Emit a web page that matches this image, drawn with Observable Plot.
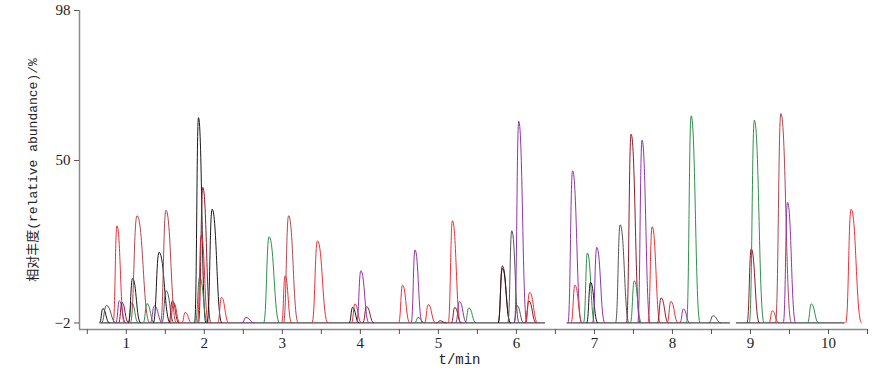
<!DOCTYPE html>
<html>
<head>
<meta charset="utf-8">
<script src="https://cdn.jsdelivr.net/npm/d3@7"></script>
<script src="https://cdn.jsdelivr.net/npm/@observablehq/plot@0.6"></script>
<style>
  html, body { margin: 0; padding: 0; background: #fff; }
</style>
</head>
<body>
<div id="chart"></div>
<script>
// ---- data ----
const traceNames  = ["red", "black", "grey", "green", "purple", "maroon", "rosy"];
const traceColors = ["#e8313a", "#1a1a1a", "#555555", "#2f8f4e", "#8f36a8", "#8e1b2c", "#b0464f"];

// retention time (min), apex abundance (%), peak half base width (min), trace
const peakTime   = [0.70, 0.745, 0.88, 0.91, 0.945, 1.07, 1.08, 1.137, 1.265, 1.36, 1.42, 1.508, 1.51, 1.59, 1.605, 1.755,
                    1.925, 1.94, 1.96, 1.98, 2.10, 2.22, 2.535, 2.83, 3.035, 3.08, 3.45, 3.90, 3.93, 4.006, 4.08,
                    4.54, 4.70, 4.74, 4.87, 5.02, 5.18, 5.21, 5.27, 5.39, 5.82, 5.82, 5.94, 6.01, 6.03, 6.16, 6.17,
                    6.72, 6.75, 6.91, 6.95, 7.03, 7.33, 7.47, 7.51, 7.61, 7.74, 7.855, 7.98, 8.14, 8.24, 8.52,
                    9.01, 9.05, 9.28, 9.39, 9.475, 9.78, 10.29];
const peakHeight = [2.6, 3.6, 29.1, 5.1, 4.5, 4.5, 12.2, 32.3, 4.2, 3.5, 20.6, 34.1, 8.3, 5.1, 4.6, 1.4,
                    63.7, 12.6, 26.0, 41.4, 34.4, 6.2, -0.2, 25.6, 13.1, 32.3, 24.3, 3.0, 4.1, 14.7, 3.2,
                    10.1, 21.4, -0.2, 3.9, -1.3, 30.7, 3.0, 4.9, 2.8, 16.3, 15.5, 27.5, 3.5, 62.5, 5.0, 7.8,
                    46.7, 10.1, 20.4, 11.0, 22.2, 29.4, 58.4, 11.5, 56.5, 28.8, 6.0, 4.9, 2.5, 64.3, 0.3,
                    21.7, 62.9, 1.9, 65.0, 36.6, 4.1, 34.4];
const peakWidth  = [0.04, 0.06, 0.045, 0.04, 0.04, 0.04, 0.05, 0.08, 0.045, 0.05, 0.07, 0.065, 0.05, 0.04, 0.04, 0.04,
                    0.045, 0.05, 0.045, 0.05, 0.06, 0.045, 0.05, 0.065, 0.04, 0.06, 0.065, 0.04, 0.04, 0.05, 0.045,
                    0.045, 0.045, 0.04, 0.045, 0.04, 0.05, 0.04, 0.045, 0.045, 0.05, 0.05, 0.045, 0.04, 0.05, 0.045, 0.05,
                    0.055, 0.045, 0.045, 0.045, 0.05, 0.055, 0.055, 0.045, 0.05, 0.05, 0.045, 0.045, 0.04, 0.055, 0.05,
                    0.05, 0.06, 0.04, 0.065, 0.05, 0.045, 0.065];
const peakTrace  = ["black", "grey", "red", "purple", "maroon", "green", "black", "rosy", "green", "purple", "black", "rosy", "grey", "maroon", "red", "red",
                    "black", "green", "red", "maroon", "black", "red", "purple", "green", "red", "rosy", "red", "black", "red", "purple", "maroon",
                    "red", "purple", "green", "red", "maroon", "red", "maroon", "purple", "green", "maroon", "black", "grey", "grey", "purple", "maroon", "red",
                    "purple", "red", "green", "black", "purple", "grey", "maroon", "green", "purple", "red", "maroon", "red", "purple", "green", "grey",
                    "maroon", "green", "red", "rosy", "purple", "green", "red"];

// acquisition segments (min) where the baseline is recorded
const segmentStart = [0.67, 6.65, 8.82];
const segmentEnd   = [6.36, 8.73, 10.2];
const baselineLevel = -2;

// axes
const xTickValues = [0.5, 1, 1.5, 2, 2.5, 3, 3.5, 4, 4.5, 5, 5.5, 6, 6.5, 7, 7.5, 8, 8.5, 9, 9.5, 10, 10.5];
const xTickLabels = ["", "1", "", "2", "", "3", "", "4", "", "5", "", "6", "", "7", "", "8", "", "9", "", "10", ""];
const yTickValues = [-2, 50, 98];
const yTickLabels = ["\u22122", "50", "98"];
const xLabel = "t/min";
const yLabel = "相对丰度(relative abundance)/%";

// ---- build tables for the marks ----
const peakRows = [];
peakTime.forEach((t, i) => {
  const w = peakWidth[i];
  peakRows.push({t: t - w,     v: baselineLevel, id: i, trace: peakTrace[i]});
  peakRows.push({t: t,         v: peakHeight[i], id: i, trace: peakTrace[i]});
  peakRows.push({t: t + 2 * w, v: baselineLevel, id: i, trace: peakTrace[i]});
});
const baseRows = [];
segmentStart.forEach((s, i) => {
  baseRows.push({t: s, v: baselineLevel, seg: i});
  baseRows.push({t: segmentEnd[i], v: baselineLevel, seg: i});
});

const xDomain = [0.4, 10.5];
const yDomain = [-4.1, 98];

const chart = Plot.plot({
  width: 884,
  height: 372,
  marginLeft: 79,
  marginRight: 17,
  marginTop: 10,
  marginBottom: 43,
  style: {fontFamily: "'Liberation Serif', serif", fontSize: "15px", color: "#222", background: "#fff"},
  x: {domain: xDomain},
  y: {domain: yDomain},
  color: {domain: traceNames, range: traceColors},
  marks: [
    Plot.line(baseRows, {x: "t", y: "v", z: "seg", stroke: "#4e4850", strokeWidth: 1.3}),
    Plot.line(peakRows, {x: "t", y: "v", z: "id", stroke: "trace", strokeWidth: 1, curve: "bump-x"}),
    Plot.ruleX([xDomain[0]], {y1: yDomain[0], y2: 98, stroke: "#8a8a8a", strokeWidth: 1.5}),
    Plot.ruleY([yDomain[0]], {x1: xDomain[0], x2: xDomain[1], stroke: "#8a8a8a", strokeWidth: 1.5}),
    Plot.axisX({ticks: xTickValues, tickFormat: d => xTickLabels[xTickValues.indexOf(d)], tickSize: 5, tickPadding: 3, label: null, stroke: "#555", fontSize: 15, fontFamily: "'Liberation Serif', serif", fill: "#222"}),
    Plot.axisY({ticks: yTickValues, tickFormat: d => yTickLabels[yTickValues.indexOf(d)], tickSize: 5, tickPadding: 4, label: null, stroke: "#555", fontSize: 15, fontFamily: "'Liberation Serif', serif", fill: "#222"}),
    Plot.text([xLabel], {frameAnchor: "bottom", dx: -14, dy: 30, lineAnchor: "middle", fontFamily: "'Liberation Mono', monospace", fontSize: 14, fill: "#222"}),
    Plot.text([yLabel], {frameAnchor: "left", dx: -47, rotate: -90, textAnchor: "middle", lineAnchor: "middle", fontFamily: "'Liberation Mono', 'Noto Sans CJK SC', monospace", fontSize: 13, fill: "#222"})
  ]
});
document.getElementById("chart").appendChild(chart);
</script>
</body>
</html>
